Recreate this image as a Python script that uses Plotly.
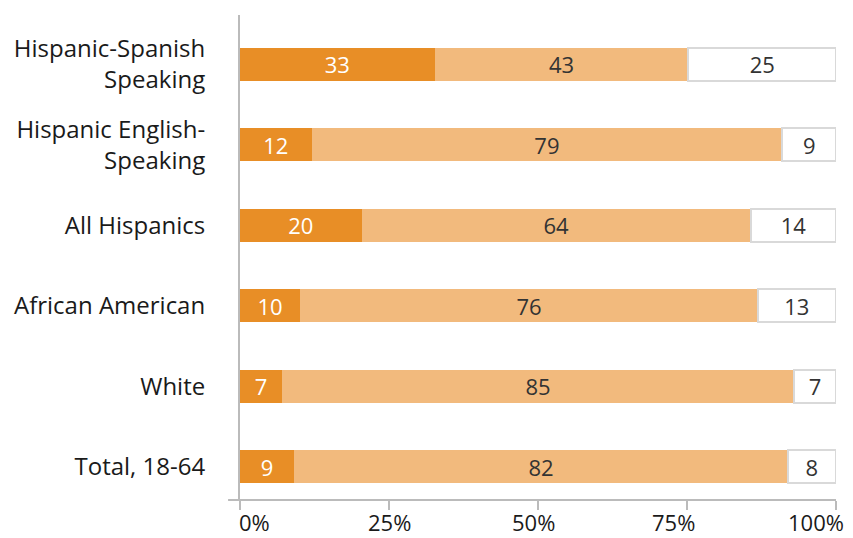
import plotly.graph_objects as go

categories = ["Hispanic-Spanish<br>Speaking", "Hispanic English-<br>Speaking", "All Hispanics",
              "African American", "White", "Total, 18-64"]
first_vals = [33, 12, 20, 10, 7, 9]
second_vals = [43, 79, 64, 76, 85, 82]
third_vals = [25, 9, 14, 13, 7, 8]
tick_vals = [0, 25, 50, 75, 100]
tick_text = ["0%", "25%", "50%", "75%", "100%"]
# horizontal nudge (px) of each percent label relative to its tick
tick_nudge = [14, 0, -5, -14, -20]

FONT = "Open Sans"
segments = [
    (first_vals, "#E88E26", "#E88E26", 0, "white"),
    (second_vals, "#F2BA7D", "#F2BA7D", 0, "#333333"),
    (third_vals, "white", "#D9D9D9", 2, "#333333"),
]

fig = go.Figure()
for vals, fill, edge, lw, tcol in segments:
    fig.add_trace(go.Bar(
        y=categories, x=vals, orientation="h",
        marker=dict(color=fill, line=dict(color=edge, width=lw)),
        text=vals, texttemplate="%{text}", textposition="inside",
        insidetextanchor="middle", textangle=0, constraintext="none",
        textfont=dict(family=FONT, size=22, color=tcol),
        hoverinfo="skip", showlegend=False,
    ))

# percent labels under the x axis
for v, t, dx in zip(tick_vals, tick_text, tick_nudge):
    fig.add_annotation(x=v, xref="x", y=0, yref="paper", text=t,
                       showarrow=False, xanchor="center", yanchor="middle",
                       xshift=dx, yshift=-22, borderpad=0,
                       font=dict(family=FONT, size=22, color="#1a1a1a"))

fig.update_layout(
    barmode="stack", barnorm="percent", bargap=0.59,
    width=853, height=538,
    margin=dict(l=240, r=17, t=15, b=38, autoexpand=False),
    plot_bgcolor="white", paper_bgcolor="white",
    font=dict(family=FONT, size=24, color="#1a1a1a"),
    xaxis=dict(range=[0, 100], tickvals=tick_vals, showticklabels=False,
               showgrid=False, zeroline=False, showline=False, automargin=False,
               ticks="outside", ticklen=9, tickcolor="#BBBBBB", tickwidth=2),
    yaxis=dict(range=[5.41, -0.61], showgrid=False, zeroline=False,
               showline=True, linecolor="#BBBBBB", linewidth=2, automargin=False,
               ticks="", ticklabelstandoff=28,
               tickfont=dict(family=FONT, size=24, color="#1a1a1a")),
    shapes=[dict(type="line", xref="paper", yref="paper",
                 x0=-0.02, x1=1.0, y0=0, y1=0,
                 line=dict(color="#BBBBBB", width=2))],
)

fig.write_html("out.html")
